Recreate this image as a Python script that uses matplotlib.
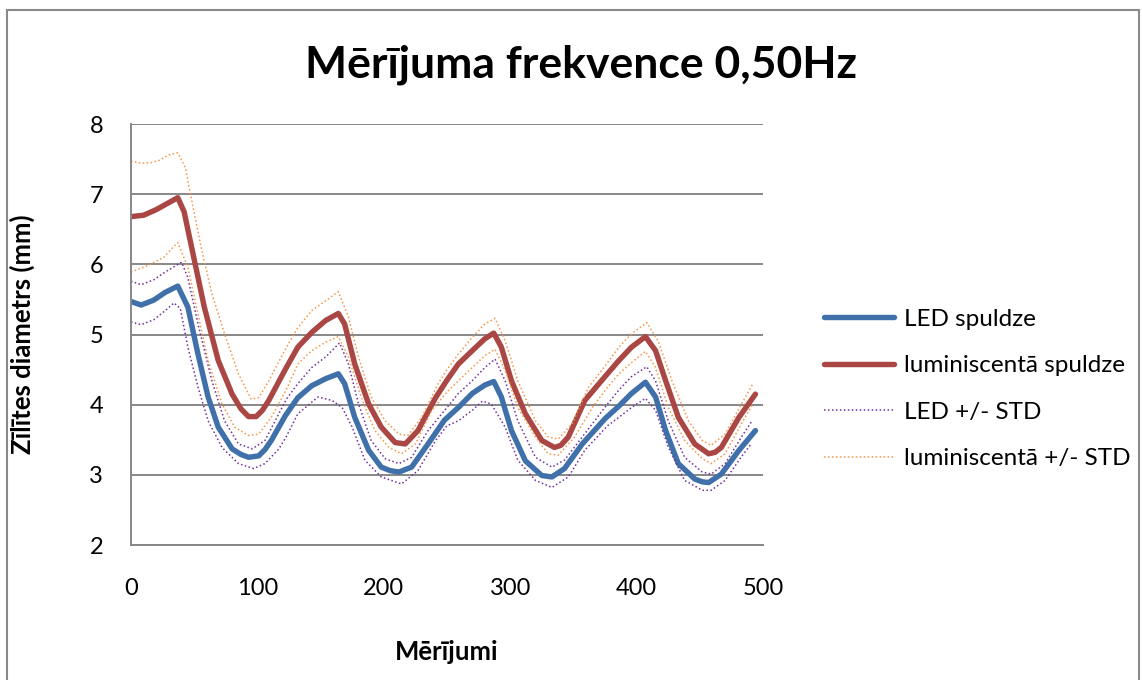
import matplotlib
matplotlib.use('Agg')
import matplotlib.pyplot as plt
from matplotlib.patches import Rectangle

plt.rcParams['font.family'] = ['Lato', 'DejaVu Sans']

# LED spuldze
led_x = [0, 8, 18, 27, 37, 45, 53, 61, 69, 80, 87, 93, 101, 106, 111, 122, 132, 143, 154,
         164, 169, 177, 188, 198, 205, 212, 222, 235, 248, 259, 270, 280, 287, 293, 301,
         312, 325, 333, 343, 357, 375, 386, 396, 407, 415, 423, 433, 446, 452, 457, 467,
         481, 494]
led_y = [5.47, 5.42, 5.49, 5.60, 5.69, 5.39, 4.72, 4.11, 3.68, 3.37, 3.29, 3.25, 3.27, 3.36,
         3.49, 3.84, 4.10, 4.27, 4.37, 4.44, 4.30, 3.82, 3.35, 3.11, 3.06, 3.04, 3.11, 3.44,
         3.78, 3.96, 4.16, 4.28, 4.33, 4.11, 3.63, 3.20, 2.99, 2.97, 3.09, 3.44, 3.80, 3.98,
         4.16, 4.32, 4.11, 3.63, 3.16, 2.94, 2.90, 2.89, 3.01, 3.35, 3.63]

# luminiscentā spuldze
lum_x = [0, 10, 20, 30, 37, 42, 48, 58, 69, 80, 87, 93, 99, 104, 109, 122, 132, 143, 154,
         164, 169, 177, 188, 198, 209, 217, 227, 241, 250, 259, 270, 280, 287, 293, 301,
         312, 325, 335, 340, 346, 359, 375, 386, 396, 407, 415, 423, 433, 446, 457, 462,
         467, 481, 494]
lum_y = [6.68, 6.70, 6.78, 6.88, 6.95, 6.75, 6.24, 5.39, 4.63, 4.15, 3.94, 3.83, 3.83, 3.92,
         4.06, 4.50, 4.82, 5.03, 5.20, 5.30, 5.15, 4.58, 4.01, 3.68, 3.46, 3.44, 3.63, 4.10,
         4.35, 4.58, 4.77, 4.94, 5.02, 4.82, 4.34, 3.87, 3.49, 3.39, 3.42, 3.54, 4.06, 4.40,
         4.63, 4.82, 4.97, 4.77, 4.34, 3.82, 3.44, 3.30, 3.32, 3.39, 3.82, 4.15]

# LED +/- STD
led_hi_x = [0, 8, 18, 27, 40, 45, 53, 64, 74, 85, 96, 106, 123, 132, 143, 154, 165, 172,
            180, 190, 201, 212, 222, 235, 250, 259, 270, 280, 288, 296, 306, 320, 333, 343,
            357, 377, 386, 396, 408, 415, 425, 438, 452, 459, 470, 483, 491]
led_hi_y = [5.76, 5.71, 5.78, 5.89, 6.03, 5.81, 5.15, 4.34, 3.77, 3.44, 3.37, 3.49, 4.08,
            4.30, 4.53, 4.68, 4.88, 4.58, 4.01, 3.49, 3.23, 3.16, 3.25, 3.63, 3.96, 4.16,
            4.34, 4.53, 4.65, 4.34, 3.77, 3.25, 3.11, 3.21, 3.54, 4.01, 4.21, 4.40, 4.54,
            4.34, 3.77, 3.25, 3.04, 3.01, 3.16, 3.54, 3.76]
led_lo_x = [0, 8, 18, 27, 34, 39, 45, 53, 61, 72, 85, 97, 106, 117, 123, 132, 148, 159, 167,
            175, 185, 198, 214, 227, 241, 250, 259, 270, 278, 285, 296, 306, 320, 333, 346,
            359, 377, 386, 396, 407, 415, 425, 438, 452, 459, 470, 483, 491]
led_lo_y = [5.18, 5.14, 5.21, 5.34, 5.45, 5.37, 4.82, 4.25, 3.77, 3.39, 3.16, 3.09, 3.16,
            3.37, 3.55, 3.87, 4.11, 4.06, 3.96, 3.68, 3.21, 2.97, 2.87, 3.06, 3.49, 3.70,
            3.77, 3.92, 4.05, 4.01, 3.68, 3.21, 2.92, 2.82, 2.97, 3.35, 3.70, 3.82, 3.96,
            4.09, 3.92, 3.40, 2.92, 2.78, 2.78, 2.92, 3.26, 3.45]

# luminiscentā +/- STD
lum_hi_x = [0, 8, 16, 22, 30, 37, 43, 48, 56, 64, 74, 85, 95, 101, 109, 123, 132, 143, 154,
            164, 172, 180, 190, 201, 212, 219, 230, 243, 250, 259, 270, 280, 288, 296, 306,
            320, 330, 338, 349, 362, 375, 386, 396, 408, 417, 428, 441, 452, 459, 470, 483, 492]
lum_hi_y = [7.47, 7.44, 7.45, 7.48, 7.56, 7.59, 7.38, 6.91, 6.20, 5.58, 5.01, 4.44, 4.08,
            4.10, 4.34, 4.82, 5.10, 5.34, 5.48, 5.61, 5.25, 4.68, 4.11, 3.77, 3.58, 3.56,
            3.82, 4.30, 4.50, 4.72, 4.96, 5.15, 5.23, 4.91, 4.34, 3.77, 3.54, 3.51, 3.73,
            4.25, 4.55, 4.82, 5.01, 5.17, 4.91, 4.34, 3.77, 3.49, 3.42, 3.58, 4.01, 4.30]
lum_lo_x = [0, 13, 26, 33, 37, 45, 53, 61, 72, 82, 93, 101, 111, 123, 132, 143, 154, 164,
            172, 183, 193, 204, 214, 225, 238, 250, 259, 270, 280, 288, 296, 306, 320, 330,
            338, 351, 365, 377, 386, 396, 407, 415, 425, 438, 452, 459, 470, 483, 492]
lum_lo_y = [5.89, 5.98, 6.10, 6.24, 6.31, 5.96, 5.29, 4.63, 4.01, 3.68, 3.56, 3.58, 3.82,
            4.22, 4.58, 4.77, 4.89, 4.97, 4.68, 4.06, 3.63, 3.39, 3.30, 3.44, 3.92, 4.18,
            4.34, 4.53, 4.70, 4.79, 4.49, 3.96, 3.54, 3.30, 3.28, 3.54, 3.96, 4.25, 4.44,
            4.60, 4.76, 4.53, 3.96, 3.49, 3.23, 3.16, 3.30, 3.73, 4.01]

W, H = 1142, 680
fig = plt.figure(figsize=(W / 100, H / 100), dpi=100)
fig.patch.set_facecolor('white')

# chart frame
fig.patches.append(Rectangle((7 / W, -0.1), (1139 - 7) / W, 1 - 10 / H + 0.1,
                             transform=fig.transFigure, fill=False,
                             edgecolor='#8a8a8a', lw=1.5, zorder=0))

ax = fig.add_axes([131 / W, 1 - 545 / H, 632 / W, 421 / H])

dots = (0, (1, 1.6))
l1, = ax.plot(led_x, led_y, color='#4070aa', lw=3.9, label='LED spuldze',
              solid_capstyle='round', solid_joinstyle='round')
l2, = ax.plot(lum_x, lum_y, color='#aa4643', lw=3.9, label='luminiscentā spuldze',
              solid_capstyle='round', solid_joinstyle='round')
l3, = ax.plot(led_hi_x, led_hi_y, color='#7030a0', lw=1.1, ls=dots, label='LED +/- STD')
ax.plot(led_lo_x, led_lo_y, color='#7030a0', lw=1.1, ls=dots)
l4, = ax.plot(lum_hi_x, lum_hi_y, color='#f79646', lw=1.1, ls=dots,
              label='luminiscentā +/- STD')
ax.plot(lum_lo_x, lum_lo_y, color='#f79646', lw=1.1, ls=dots)

ax.set_xlim(0, 500)
ax.set_ylim(2, 8)
ax.set_xticks(range(0, 501, 100))
ax.set_yticks(range(2, 9))
ax.grid(axis='y', color='#878787', lw=1.4)
ax.set_axisbelow(True)
for s in ['top', 'right']:
    ax.spines[s].set_visible(False)
for s in ['left', 'bottom']:
    ax.spines[s].set_color('#878787')
    ax.spines[s].set_linewidth(1.4)
ax.tick_params(length=0, labelsize=17)
ax.tick_params(axis='x', pad=24)
ax.tick_params(axis='y', pad=20)

ax.set_xlabel('Mērījumi', fontsize=18.5, fontweight='bold')
ax.xaxis.set_label_coords(0.5, (545 - 640) / 421)
ax.set_ylabel('Zīlītes diametrs (mm)', fontsize=18.5, fontweight='bold')
ax.yaxis.set_label_coords((35 - 131) / 632, 0.5)

fig.text(581 / W, 1 - 65 / H, 'Mērījuma frekvence 0,50Hz', ha='center', va='center',
         fontsize=32, fontweight='bold')

ax.legend(handles=[l1, l2, l3, l4], loc='center left',
          bbox_to_anchor=(824 / W, 1 - 389 / H), bbox_transform=fig.transFigure,
          frameon=False, fontsize=17.5, handlelength=2.9, handletextpad=0.4,
          labelspacing=1.05, borderpad=0, borderaxespad=0)

fig.savefig('out.png', dpi=100)
